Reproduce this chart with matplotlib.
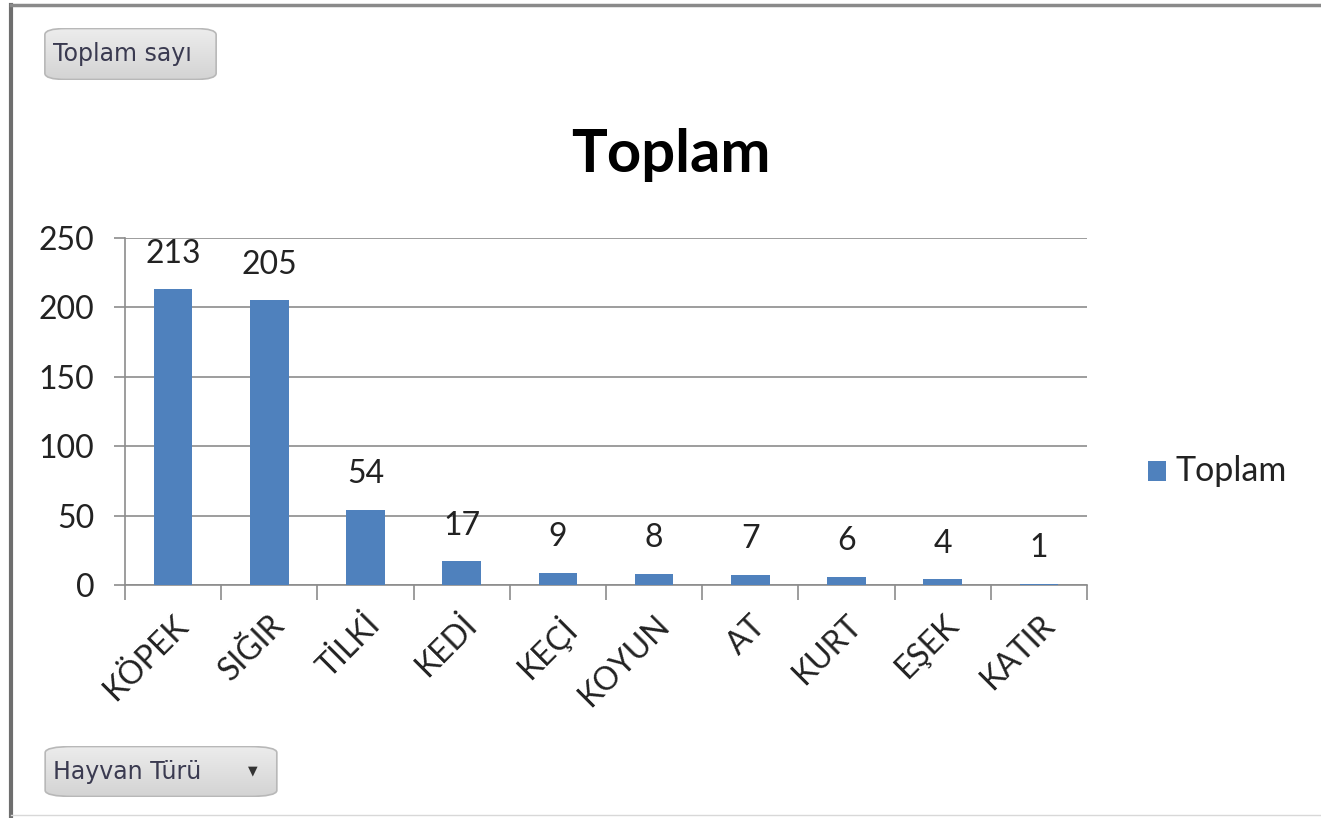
import matplotlib
matplotlib.use("Agg")
import numpy as np
import matplotlib.pyplot as plt
from matplotlib.patches import FancyBboxPatch, Rectangle
from matplotlib.lines import Line2D

categories = ["KÖPEK", "SIĞIR", "TİLKİ", "KEDİ", "KEÇİ", "KOYUN", "AT", "KURT", "EŞEK", "KATIR"]
values = [213, 205, 54, 17, 9, 8, 7, 6, 4, 1]
yticks = [0, 50, 100, 150, 200, 250]
title = "Toplam"
series_name = "Toplam"
filter_label = "Toplam sayı"
axis_field_label = "Hayvan Türü"

W, H = 1321, 818
fig = plt.figure(figsize=(W / 100, H / 100), dpi=100)
fig.patch.set_facecolor("white")

FONT = ["Lato", "DejaVu Sans"]
BAR = "#4F81BD"
GRID = "#8C8C8C"
FS = 23

ax = fig.add_axes([125 / W, 1 - 585 / H, (1087 - 125) / W, (585 - 238) / H])
x = list(range(len(categories)))
ax.bar(x, values, width=0.40, color=BAR, zorder=3, label=series_name)
ax.set_xlim(-0.5, len(categories) - 0.5)
ax.set_ylim(0, 250)
ax.set_yticks(yticks)
ax.set_yticklabels([str(v) for v in yticks], fontsize=FS, family=FONT, color="#222222")
ax.yaxis.grid(True, color=GRID, linewidth=1.2, zorder=0)
ax.set_axisbelow(True)
for s in ["top", "right"]:
    ax.spines[s].set_visible(False)
ax.spines["left"].set_color(GRID)
ax.spines["bottom"].set_color(GRID)
ax.spines["left"].set_linewidth(1.2)
ax.spines["bottom"].set_linewidth(1.2)
ax.tick_params(axis="y", length=8, color=GRID, width=1.2, pad=14)

ax.set_xticks(x)
ax.set_xticklabels(categories, rotation=45, ha="right", rotation_mode="anchor",
                   fontsize=FS, family=FONT, color="#222222")
ax.tick_params(axis="x", which="major", length=0, pad=18)
ax.set_xticks([i - 0.5 for i in range(len(categories) + 1)], minor=True)
ax.tick_params(axis="x", which="minor", length=11, color=GRID, width=1.2)

for xi, v in zip(x, values):
    ax.annotate(str(v), (xi, v), xytext=(0, 15), textcoords="offset points",
                ha="center", va="bottom", fontsize=FS, family=FONT, color="#222222")

fig.text(671 / W, 1 - 155 / H, title, ha="center", va="center",
         fontsize=43, fontweight="bold", family=FONT)

# legend
fig.patches.append(Rectangle((1148 / W, 1 - 481 / H), 18 / W, 20 / H,
                             transform=fig.transFigure, facecolor=BAR, edgecolor="none"))
fig.text(1175 / W, 1 - 471 / H, series_name, ha="left", va="center",
         fontsize=24.5, family=FONT, color="#222222")

# field buttons with vertical gradient
grad = np.linspace(0, 1, 64).reshape(-1, 1)

def button(x0, y0, x1, y1, text, arrow=False):
    bax = fig.add_axes([x0 / W, 1 - y1 / H, (x1 - x0) / W, (y1 - y0) / H])
    bax.set_axis_off()
    bax.set_xlim(0, 1)
    bax.set_ylim(0, 1)
    patch = FancyBboxPatch((0.005, 0.01), 0.99, 0.98,
                           boxstyle="round,pad=0,rounding_size=0.12",
                           mutation_aspect=(x1 - x0) / (y1 - y0) if False else 1,
                           facecolor="none", edgecolor="#B8B8B8", linewidth=1.2,
                           transform=bax.transAxes, zorder=3)
    bax.add_patch(patch)
    im = bax.imshow(grad, extent=(0, 1, 0, 1), aspect="auto", cmap=matplotlib.colors.LinearSegmentedColormap.from_list(
        "g", ["#EDEDED", "#D3D3D3"]), origin="upper", zorder=1)
    im.set_clip_path(patch)
    bax.text(9 / (x1 - x0), 0.5, text, ha="left", va="center",
             fontsize=17, family=["DejaVu Sans"], color="#3A3A50",
             transform=bax.transAxes, zorder=4)
    if arrow:
        bax.text(1 - 25 / (x1 - x0), 0.52, "▼", ha="center", va="center",
                 fontsize=9, family=["DejaVu Sans"], color="#333333",
                 transform=bax.transAxes, zorder=4)

button(44, 28, 217, 80, filter_label)
button(44, 746, 278, 797, axis_field_label, arrow=True)

# outer frame
fig.add_artist(Line2D([11 / W, 11 / W], [0, 1 - 5 / H], transform=fig.transFigure,
                      color="#6E6E6E", linewidth=3))
fig.add_artist(Line2D([11 / W, 1], [1 - 5 / H, 1 - 5 / H], transform=fig.transFigure,
                      color="#8A8A8A", linewidth=2.5))
fig.add_artist(Line2D([11 / W, 1], [1 - 815 / H, 1 - 815 / H], transform=fig.transFigure,
                      color="#D8D8D8", linewidth=1))

fig.savefig("out.png", dpi=100)
